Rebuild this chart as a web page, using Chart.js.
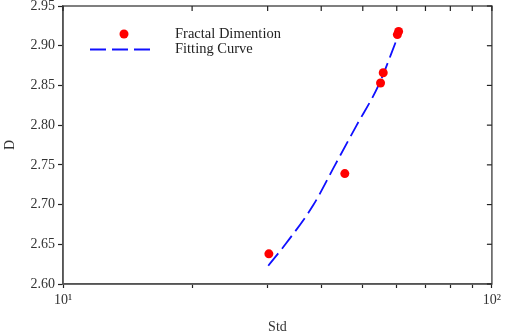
<!DOCTYPE html>
<html>
<head>
<meta charset="utf-8">
<script src="https://cdn.jsdelivr.net/npm/chart.js@4/dist/chart.umd.min.js"></script>
<style>
  html, body { margin: 0; padding: 0; background: #fff; }
  #wrap { width: 505px; height: 332px; }
</style>
</head>
<body>
<div id="wrap"><canvas id="fdChart"></canvas></div>
<script>
// measured points (Std, D)
const stdValues = [30.2, 45.4, 55.0, 55.8, 60.2, 60.6];
const dValues = [2.638, 2.739, 2.853, 2.866, 2.914, 2.918];

// fitting curve
const fitStd = [30.1, 33.0, 38.4, 43.1, 48.4, 54.4, 60.2];
const fitD = [2.623, 2.65, 2.70, 2.75, 2.80, 2.85, 2.910];

const xTicks = [10, 20, 30, 40, 50, 60, 70, 80, 90, 100];
const xTickLabels = { 10: "10\u00b9", 100: "10\u00b2" };

const axisColor = "#555";
const serif = "'Liberation Serif', 'Times New Roman', serif";

// frame + inward ticks on top and right, legend inside the plot
const framePlugin = {
    id: "frame",
    afterDraw(chart) {
        const ctx = chart.ctx;
        const a = chart.chartArea;
        const xs = chart.scales.x;
        const ys = chart.scales.y;
        ctx.save();
        ctx.strokeStyle = axisColor;
        ctx.lineWidth = 1.5;
        ctx.strokeRect(a.left, a.top, a.right - a.left, a.bottom - a.top);
        ctx.lineWidth = 1.2;
        ctx.strokeStyle = "#222";
        xs.ticks.forEach(t => {
            const px = xs.getPixelForValue(t.value);
            ctx.beginPath();
            ctx.moveTo(px, a.top);
            ctx.lineTo(px, a.top + 5);
            ctx.stroke();
        });
        ys.ticks.forEach(t => {
            const py = ys.getPixelForValue(t.value);
            ctx.beginPath();
            ctx.moveTo(a.right, py);
            ctx.lineTo(a.right - 5, py);
            ctx.stroke();
        });

        // legend
        const pts = chart.data.datasets[0];
        const fit = chart.data.datasets[1];
        ctx.fillStyle = pts.backgroundColor;
        ctx.beginPath();
        ctx.arc(124, 34, 4.5, 0, Math.PI * 2);
        ctx.fill();
        ctx.strokeStyle = fit.borderColor;
        ctx.lineWidth = 2;
        ctx.setLineDash(fit.borderDash);
        ctx.beginPath();
        ctx.moveTo(90, 49.5);
        ctx.lineTo(152, 49.5);
        ctx.stroke();
        ctx.setLineDash([]);
        ctx.fillStyle = "#222";
        ctx.font = "14.5px " + serif;
        ctx.textBaseline = "middle";
        ctx.fillText(pts.label, 175, 34);
        ctx.fillText(fit.label, 175, 49);
        ctx.restore();
    }
};

new Chart(document.getElementById("fdChart"), {
    type: "scatter",
    data: {
        datasets: [{
            label: "Fractal Dimention",
            data: stdValues.map((v, i) => ({ x: v, y: dValues[i] })),
            backgroundColor: "#ff0000",
            borderColor: "#ff0000",
            pointRadius: 4.5,
            pointBorderWidth: 0,
            order: 0
        }, {
            label: "Fitting Curve",
            data: fitStd.map((v, i) => ({ x: v, y: fitD[i] })),
            showLine: true,
            borderColor: "#1010ff",
            borderWidth: 1.8,
            borderDash: [16, 6],
            pointRadius: 0,
            cubicInterpolationMode: "monotone",
            order: 1
        }]
    },
    options: {
        responsive: true,
        maintainAspectRatio: false,
        animation: false,
        layout: { padding: { top: 6, right: 0, left: 0, bottom: 0 } },
        plugins: {
            legend: { display: false },
            tooltip: { enabled: false }
        },
        scales: {
            x: {
                type: "logarithmic",
                min: 10,
                max: 100,
                afterBuildTicks: scale => {
                    scale.ticks = xTicks.map(v => ({ value: v }));
                },
                afterFit: scale => { scale.height = 48; },
                border: { color: axisColor, width: 1.5 },
                grid: { drawOnChartArea: false, tickLength: 4, color: "#222", tickWidth: 1.2 },
                ticks: {
                    autoSkip: false,
                    maxRotation: 0,
                    padding: 4,
                    color: "#333",
                    font: { family: serif, size: 14 },
                    callback: v => xTickLabels[v] || ""
                },
                title: {
                    display: true,
                    text: "Std",
                    color: "#333",
                    font: { family: serif, size: 14 },
                    padding: -4
                }
            },
            y: {
                min: 2.60,
                max: 2.95,
                afterFit: scale => {
                    scale.width = 63;
                    scale.paddingTop = 0;
                },
                border: { color: axisColor, width: 1.5 },
                grid: { drawOnChartArea: false, tickLength: 5, color: "#222", tickWidth: 1.2 },
                ticks: {
                    stepSize: 0.05,
                    padding: 3,
                    color: "#333",
                    font: { family: serif, size: 14 },
                    callback: v => Number(v).toFixed(2)
                },
                title: {
                    display: true,
                    text: "D",
                    color: "#333",
                    font: { family: serif, size: 14 },
                    padding: { top: 2, bottom: 0 }
                }
            }
        }
    },
    plugins: [framePlugin]
});
</script>
</body>
</html>
